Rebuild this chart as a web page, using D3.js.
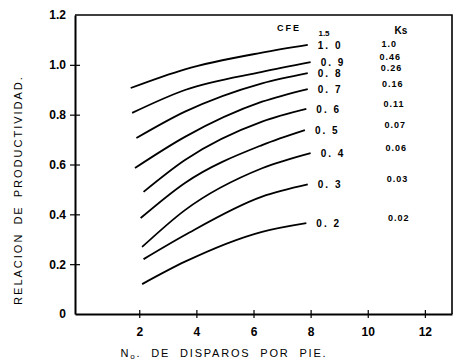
<!DOCTYPE html>
<html>
<head>
<meta charset="utf-8">
<script src="https://cdn.jsdelivr.net/npm/d3@7"></script>
<style>
  body { margin: 0; background: #fff; }
  svg { display: block; }
</style>
</head>
<body>
<svg id="chart" width="455" height="362"></svg>
<script>
// values
const xTicks = [2, 4, 6, 8, 10, 12];
const yTicks = [0, 0.2, 0.4, 0.6, 0.8, 1.0, 1.2];
const cfeLabels = ["1.0", "0.9", "0.8", "0.7", "0.6", "0.5", "0.4", "0.3", "0.2"];
const ksLabels = ["1.0", "0.46", "0.26", "0.16", "0.11", "0.07", "0.06", "0.03", "0.02"];

// each curve: [disparos por pie, relacion de productividad]
const curve10 = [[1.7, 0.907], [3.6, 0.982], [6.3, 1.049], [7.9, 1.08]];
const curve09 = [[1.75, 0.807], [3.6, 0.899], [6.3, 0.972], [8.0, 1.011]];
const curve08 = [[1.9, 0.706], [3.6, 0.812], [6.3, 0.926], [7.9, 0.967]];
const curve07 = [[1.85, 0.586], [3.6, 0.711], [6.3, 0.852], [7.9, 0.903]];
const curve06 = [[2.15, 0.49], [3.6, 0.618], [6.3, 0.772], [7.85, 0.823]];
const curve05 = [[2.05, 0.385], [3.6, 0.526], [6.3, 0.678], [7.8, 0.738]];
const curve04 = [[2.1, 0.269], [3.6, 0.417], [6.3, 0.585], [8.0, 0.646]];
const curve03 = [[2.15, 0.22], [3.6, 0.317], [6.3, 0.471], [7.9, 0.52]];
const curve02 = [[2.1, 0.12], [3.6, 0.21], [6.3, 0.33], [7.85, 0.365]];
const curves = [curve10, curve09, curve08, curve07, curve06, curve05, curve04, curve03, curve02];

const svg = d3.select("#chart");
const font = "'Liberation Sans', Arial, sans-serif";

const x = d3.scaleLinear().domain([-0.25, 12.95]).range([75, 452]);
const y = d3.scaleLinear().domain([0, 1.2]).range([314, 15]);

// frame (top + right)
svg.append("path")
    .attr("d", `M${x.range()[0]},${y(1.2)} H${x.range()[1]} V${y(0)}`)
    .attr("fill", "none")
    .attr("stroke", "#000")
    .attr("stroke-width", 1.6);

// x axis
const xAxis = svg.append("g")
    .attr("transform", `translate(0,${y(0)})`)
    .call(d3.axisBottom(x).tickValues(xTicks).tickSize(0).tickPadding(13).tickFormat(d3.format("d")));
xAxis.select(".domain").attr("stroke-width", 2);
xAxis.selectAll(".tick").append("line")
    .attr("y1", -4).attr("y2", 4).attr("stroke", "#000").attr("stroke-width", 1.2);
xAxis.selectAll("text")
    .attr("font-family", font).attr("font-size", 12).attr("font-weight", "bold");

// y axis
const yAxis = svg.append("g")
    .attr("transform", `translate(${x.range()[0]},0)`)
    .call(d3.axisLeft(y).tickValues(yTicks).tickSize(0).tickPadding(9)
        .tickFormat(d => d === 0 ? "0" : d3.format(".1f")(d)));
yAxis.select(".domain").attr("stroke-width", 2);
yAxis.selectAll(".tick").filter(d => d > 0 && d < 1.2).append("line")
    .attr("x1", -5).attr("x2", 5).attr("stroke", "#000").attr("stroke-width", 1.2);
yAxis.selectAll("text")
    .attr("font-family", font).attr("font-size", 12).attr("font-weight", "bold");

// curves
const line = d3.line()
    .x(d => x(d[0]))
    .y(d => y(d[1]))
    .curve(d3.curveMonotoneX);

svg.append("g")
    .selectAll("path")
    .data(curves)
    .join("path")
    .attr("d", line)
    .attr("fill", "none")
    .attr("stroke", "#000")
    .attr("stroke-width", 1.8);

// CFE labels at curve ends
const lab = svg.append("g")
    .attr("font-family", font)
    .attr("font-size", 10)
    .attr("font-weight", "bold");

lab.selectAll("text.cfe")
    .data(curves)
    .join("text")
    .attr("class", "cfe")
    .attr("x", d => x(d[d.length - 1][0]) + 10)
    .attr("y", d => y(d[d.length - 1][1]) + 4)
    .attr("letter-spacing", 2)
    .text((d, i) => cfeLabels[i].replace(".", ". "));

// Ks labels
lab.selectAll("text.ks")
    .data(curves)
    .join("text")
    .attr("class", "ks")
    .attr("x", (d, i) => x(10.75) + i * 1.2)
    .attr("y", (d, i) => y(d[d.length - 1][1]) + (i === 0 ? 2 : -2))
    .attr("text-anchor", "middle")
    .attr("font-size", 9)
    .attr("letter-spacing", 1)
    .text((d, i) => ksLabels[i]);

lab.append("text")
    .attr("x", 289).attr("y", 31)
    .attr("text-anchor", "middle")
    .attr("font-size", 9)
    .attr("letter-spacing", 2)
    .text("CFE");

lab.append("text")
    .attr("x", 324).attr("y", 36)
    .attr("text-anchor", "middle")
    .attr("font-size", 8)
    .text("1.5");

lab.append("text")
    .attr("x", 401).attr("y", 34)
    .attr("text-anchor", "middle")
    .attr("font-size", 10)
    .text("Ks");

// axis titles
const xt = svg.append("text")
    .attr("x", 224).attr("y", 357)
    .attr("text-anchor", "middle")
    .attr("font-family", font)
    .attr("font-size", 11)
    .attr("letter-spacing", 1.8)
    .attr("word-spacing", 5);
xt.append("tspan").text("N");
xt.append("tspan").attr("font-size", 8).attr("dy", 2).text("o");
xt.append("tspan").attr("dy", -2).text(". DE DISPAROS POR PIE.");

svg.append("text")
    .attr("transform", `translate(22,190) rotate(-90)`)
    .attr("text-anchor", "middle")
    .attr("font-family", font)
    .attr("font-size", 11)
    .attr("letter-spacing", 2)
    .attr("word-spacing", 3)
    .text("RELACION DE PRODUCTIVIDAD.");
</script>
</body>
</html>
